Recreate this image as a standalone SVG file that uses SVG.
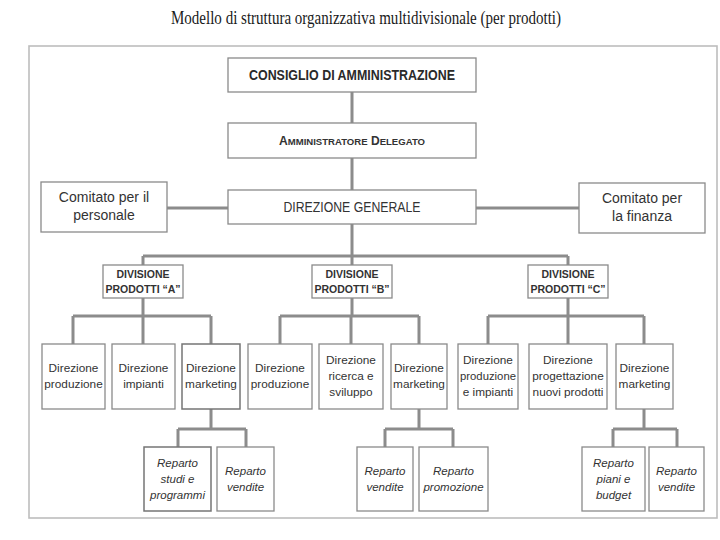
<svg xmlns="http://www.w3.org/2000/svg" width="720" height="540" viewBox="0 0 720 540">
<style>
.box{fill:#fff;stroke:#8a8a8a;stroke-width:1.3}
.dark{stroke:#757575;stroke-width:1.5}
.t{font-family:"Liberation Sans",Arial,sans-serif;fill:#333;text-anchor:middle}
.hd{font-size:15px;font-weight:bold;fill:#2a2a2a}
.mid{font-size:14px}
.dv{font-size:10.5px;font-weight:bold}
.l3{font-size:11.8px}
.rp{font-size:11.5px;font-style:italic}
.conn{fill:none;stroke:#8c8c8c;stroke-width:3}
</style>
<rect width="720" height="540" fill="#fff"/>
<text x="366" y="24" font-family="Liberation Serif,serif" font-size="19" fill="#1a1a1a" text-anchor="middle" textLength="390" lengthAdjust="spacingAndGlyphs">Modello di struttura organizzativa multidivisionale (per prodotti)</text>
<rect x="29" y="46" width="688" height="472" fill="none" stroke="#bdbdbd" stroke-width="1.6"/>

<g id="connectors" class="conn">
<path d="M352 92V123M352 158V190"/>
<path d="M167 208H228M476 208H579"/>
<path d="M352 224V265M143 256H568M143 256V265M568 256V265"/>
<path d="M143 298V316M73 316H211M73 316V344M143 316V344M211 316V344"/>
<path d="M352 298V316M280 316H419M280 316V344M351 316V344M419 316V344"/>
<path d="M568 298V316M488 316H644M488 316V344M568 316V344M644 316V344"/>
<path d="M211 409V429M178 429H246M178 429V447M246 429V447"/>
<path d="M419 409V429M385 429H453M385 429V447M453 429V447"/>
<path d="M644 409V429M613 429H677M613 429V447M677 429V447"/>
</g>

<g id="consiglio"><rect class="box" x="228" y="58" width="248" height="34"/>
<text class="t hd" x="352" y="80" textLength="206" lengthAdjust="spacingAndGlyphs">CONSIGLIO DI AMMINISTRAZIONE</text></g>
<g id="amministratore"><rect class="box" x="228" y="123" width="248" height="35"/>
<text class="t" x="352" y="145" font-size="12" font-weight="bold" textLength="146" lengthAdjust="spacingAndGlyphs">A<tspan font-size="9.5">MMINISTRATORE</tspan> D<tspan font-size="9.5">ELEGATO</tspan></text></g>
<g id="direzione-generale"><rect class="box" x="228" y="190" width="248" height="34"/>
<text class="t mid" x="352" y="212" textLength="137" lengthAdjust="spacingAndGlyphs">DIREZIONE GENERALE</text></g>
<g id="comitato-personale"><rect class="box" x="41" y="182" width="126" height="50"/>
<text class="t mid" x="104" y="202">Comitato per il</text><text class="t mid" x="104" y="220">personale</text></g>
<g id="comitato-finanza"><rect class="box" x="579" y="183" width="126" height="50"/>
<text class="t mid" x="642" y="203">Comitato per</text><text class="t mid" x="642" y="221">la finanza</text></g>

<g id="div-a"><rect class="box" x="103" y="265" width="80" height="33"/>
<text class="t dv" x="143" y="278">DIVISIONE</text><text class="t dv" x="143" y="293">PRODOTTI “A”</text></g>
<g id="div-b"><rect class="box" x="312" y="265" width="80" height="33"/>
<text class="t dv" x="352" y="278">DIVISIONE</text><text class="t dv" x="352" y="293">PRODOTTI “B”</text></g>
<g id="div-c"><rect class="box" x="528" y="265" width="80" height="33"/>
<text class="t dv" x="568" y="278">DIVISIONE</text><text class="t dv" x="568" y="293">PRODOTTI “C”</text></g>

<g id="a-produzione"><rect class="box" x="42" y="344" width="63" height="65"/>
<text class="t l3" x="73.5" y="372">Direzione</text><text class="t l3" x="73.5" y="388">produzione</text></g>
<g id="a-impianti"><rect class="box" x="112" y="344" width="63" height="65"/>
<text class="t l3" x="143.5" y="372">Direzione</text><text class="t l3" x="143.5" y="388">impianti</text></g>
<g id="a-marketing"><rect class="box dark" x="182" y="344" width="58" height="65"/>
<text class="t l3" x="211" y="372">Direzione</text><text class="t l3" x="211" y="388">marketing</text></g>

<g id="b-produzione"><rect class="box" x="248" y="344" width="64" height="65"/>
<text class="t l3" x="280" y="372">Direzione</text><text class="t l3" x="280" y="388">produzione</text></g>
<g id="b-ricerca"><rect class="box" x="319" y="344" width="64" height="65"/>
<text class="t l3" x="351" y="364">Direzione</text><text class="t l3" x="351" y="380">ricerca e</text><text class="t l3" x="351" y="396">sviluppo</text></g>
<g id="b-marketing"><rect class="box" x="391" y="344" width="56" height="65"/>
<text class="t l3" x="419" y="372">Direzione</text><text class="t l3" x="419" y="388">marketing</text></g>

<g id="c-produzione"><rect class="box" x="458" y="344" width="60" height="65"/>
<text class="t l3" x="488" y="364">Direzione</text><text class="t l3" x="488" y="380" textLength="56" lengthAdjust="spacingAndGlyphs">produzione</text><text class="t l3" x="488" y="396">e impianti</text></g>
<g id="c-progettazione"><rect class="box" x="529" y="344" width="78" height="65"/>
<text class="t l3" x="568" y="364">Direzione</text><text class="t l3" x="568" y="380">progettazione</text><text class="t l3" x="568" y="396">nuovi prodotti</text></g>
<g id="c-marketing"><rect class="box" x="616" y="344" width="57" height="65"/>
<text class="t l3" x="644.5" y="372">Direzione</text><text class="t l3" x="644.5" y="388">marketing</text></g>

<g id="a-studi"><rect class="box dark" x="144" y="447" width="67" height="64"/>
<text class="t rp" x="177.5" y="467">Reparto</text><text class="t rp" x="177.5" y="483">studi e</text><text class="t rp" x="177.5" y="499">programmi</text></g>
<g id="a-vendite"><rect class="box" x="217" y="447" width="57" height="64"/>
<text class="t rp" x="245.5" y="475">Reparto</text><text class="t rp" x="245.5" y="491">vendite</text></g>
<g id="b-vendite"><rect class="box" x="357" y="447" width="56" height="64"/>
<text class="t rp" x="385" y="475">Reparto</text><text class="t rp" x="385" y="491">vendite</text></g>
<g id="b-promozione"><rect class="box" x="419" y="447" width="69" height="64"/>
<text class="t rp" x="453.5" y="475">Reparto</text><text class="t rp" x="453.5" y="491">promozione</text></g>
<g id="c-piani"><rect class="box" x="582" y="447" width="63" height="64"/>
<text class="t rp" x="613.5" y="467">Reparto</text><text class="t rp" x="613.5" y="483">piani e</text><text class="t rp" x="613.5" y="499">budget</text></g>
<g id="c-vendite"><rect class="box" x="649" y="447" width="55" height="64"/>
<text class="t rp" x="676.5" y="475">Reparto</text><text class="t rp" x="676.5" y="491">vendite</text></g>
</svg>
